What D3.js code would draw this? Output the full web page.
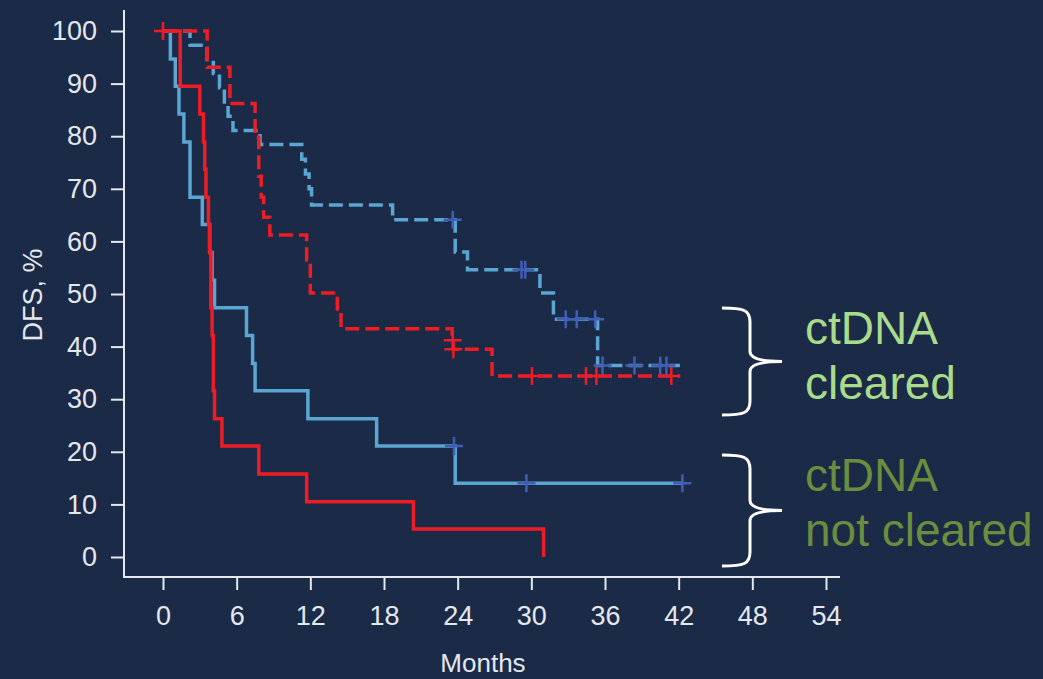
<!DOCTYPE html>
<html lang="en">
  <head>
    <meta charset="UTF-8" />
    <title>DFS by ctDNA clearance</title>
    <script src="https://d3js.org/d3.v7.min.js"></script>
    <style>
      body {
        margin: 0;
        background: #1b2a47;
        font-family: "Liberation Sans", Arial, sans-serif;
      }
    </style>
  </head>
  <body>
    <svg id="km" width="1043" height="679"></svg>
    <script>
      // Tick values
      const xTicks = [0, 6, 12, 18, 24, 30, 36, 42, 48, 54];
      const yTicks = [0, 10, 20, 30, 40, 50, 60, 70, 80, 90, 100];

      // Kaplan-Meier steps: [month, DFS %]; last point = end of follow-up
      const blueSolid = [
        [0, 100], [0.6, 94.7], [1.0, 89.5], [1.3, 84.2], [1.7, 78.9], [2.2, 68.4],
        [3.2, 63.2], [3.8, 57.9], [4.0, 52.6], [4.2, 47.4], [6.8, 42.1], [7.3, 36.8],
        [7.5, 31.6], [11.8, 26.3], [17.4, 21.1], [23.8, 14.0], [42.4, 14.0]
      ];
      const blueSolidCensor = [[23.7, 21.1], [29.6, 14.0], [42.3, 14.0]];

      const redSolid = [
        [0, 100], [1.4, 89.5], [3.0, 84.2], [3.3, 78.9], [3.4, 73.7], [3.5, 68.4],
        [3.7, 63.2], [3.8, 57.9], [3.9, 47.4], [4.0, 42.1], [4.1, 31.6], [4.2, 26.3],
        [4.8, 21.1], [7.8, 15.8], [11.7, 10.5], [20.4, 5.3], [31.0, 0], [31.0, 0]
      ];
      const redSolidCensor = [[0, 100]];

      const blueDashed = [
        [0, 100], [2.2, 97.3], [3.6, 94.6], [4.1, 91.9], [4.6, 89.2], [5.0, 86.5],
        [5.3, 83.8], [5.7, 81.1], [7.9, 78.4], [11.3, 75.6], [11.6, 72.8], [11.9, 70.0],
        [12.1, 66.9], [18.7, 64.1], [23.8, 58.0], [24.8, 54.6], [30.7, 50.2],
        [31.8, 45.2], [35.4, 36.4], [42.1, 36.4]
      ];
      const blueDashedCensor = [
        [23.6, 64.1], [29.2, 54.6], [29.5, 54.6], [32.8, 45.2], [33.7, 45.2],
        [35.2, 45.2], [35.8, 36.4], [38.4, 36.4], [40.5, 36.4], [41.0, 36.4]
      ];

      const redDashed = [
        [0, 100], [3.6, 93.1], [5.45, 86.2], [7.5, 79.8], [7.8, 72.4], [8.0, 68.4],
        [8.2, 64.6], [8.7, 61.2], [11.7, 56.5], [12.0, 50.2], [14.2, 46.8],
        [14.5, 43.4], [23.55, 41.2], [23.65, 39.5], [26.8, 34.4], [42.1, 34.4]
      ];
      const redDashedCensor = [
        [23.6, 41.2], [23.65, 39.5], [30.05, 34.4], [34.45, 34.4], [35.3, 34.4], [41.4, 34.4]
      ];

      const groupLabels = [["ctDNA", "cleared"], ["ctDNA", "not cleared"]];

      const svg = d3.select("#km");

      const x = d3.scaleLinear().domain([0, 54]).range([163, 826]);
      const y = d3.scaleLinear().domain([0, 100]).range([557, 31]);

      const axisColor = "#e4e8ee";

      // Axes (domain lines drawn separately, they run past the tick range)
      const yAxis = svg
        .append("g")
        .attr("transform", "translate(124,0)")
        .call(d3.axisLeft(y).tickValues(yTicks).tickSize(13).tickPadding(14));
      const xAxis = svg
        .append("g")
        .attr("transform", "translate(0,577)")
        .call(d3.axisBottom(x).tickValues(xTicks).tickSize(13).tickPadding(16));

      [yAxis, xAxis].forEach((g) => {
        g.select(".domain").remove();
        g.selectAll("line").attr("stroke", axisColor).attr("stroke-width", 2);
        g.selectAll("text")
          .attr("fill", axisColor)
          .style("font-size", "27px")
          .style("font-family", "'Liberation Sans', Arial, sans-serif");
      });

      svg.append("path")
        .attr("d", "M124,10V577H840")
        .attr("fill", "none")
        .attr("stroke", axisColor)
        .attr("stroke-width", 2);

      svg.append("text")
        .attr("x", 483)
        .attr("y", 672)
        .attr("text-anchor", "middle")
        .attr("fill", axisColor)
        .style("font-size", "26px")
        .text("Months");

      svg.append("text")
        .attr("transform", "translate(42,295) rotate(-90)")
        .attr("text-anchor", "middle")
        .attr("fill", axisColor)
        .style("font-size", "27px")
        .text("DFS, %");

      // Survival curves
      const step = d3
        .line()
        .x((d) => x(d[0]))
        .y((d) => y(d[1]))
        .curve(d3.curveStepAfter);

      const blue = "#5aa6d2";
      const red = "#ee1c25";
      const censorBlue = "#3f5fb6";

      const curves = [
        { data: blueSolid, color: blue, dash: null },
        { data: blueDashed, color: blue, dash: "14,6" },
        { data: redDashed, color: red, dash: "14,6" },
        { data: redSolid, color: red, dash: null },
      ];

      curves.forEach((c) => {
        svg.append("path")
          .datum(c.data)
          .attr("fill", "none")
          .attr("stroke", c.color)
          .attr("stroke-width", 3.5)
          .attr("stroke-dasharray", c.dash)
          .attr("d", step);
      });

      // Censor marks
      const censors = [
        { data: blueSolidCensor, color: censorBlue },
        { data: blueDashedCensor, color: censorBlue },
        { data: redDashedCensor, color: red },
        { data: redSolidCensor, color: red },
      ];

      censors.forEach((c) => {
        svg.append("g")
          .selectAll("path")
          .data(c.data)
          .join("path")
          .attr("d", (d) => `M${x(d[0]) - 9},${y(d[1])}h18M${x(d[0])},${y(d[1]) - 9}v18`)
          .attr("stroke", c.color)
          .attr("stroke-width", 2.5)
          .attr("fill", "none");
      });

      // Braces and group labels
      const brace = (top, bottom) => {
        const mid = (top + bottom) / 2;
        return `M722,${top} C744,${top} 750,${top + 2} 750,${top + 14}
          V${mid - 10} C750,${mid - 2} 764,${mid} 782,${mid}
          C764,${mid} 750,${mid + 2} 750,${mid + 10}
          V${bottom - 14} C750,${bottom - 2} 744,${bottom} 722,${bottom}`;
      };

      const labelColors = ["#a9db8b", "#6b8d3e"];
      const braceSpans = [[308, 415], [455, 566]];

      groupLabels.forEach((lines, i) => {
        const [top, bottom] = braceSpans[i];
        svg.append("path")
          .attr("d", brace(top, bottom))
          .attr("fill", "none")
          .attr("stroke", "#ffffff")
          .attr("stroke-width", 3);

        const t = svg.append("text")
          .attr("fill", labelColors[i])
          .style("font-size", "46px");
        lines.forEach((line, j) => {
          t.append("tspan")
            .attr("x", 805)
            .attr("y", top + 36 + j * 55)
            .text(line);
        });
      });
    </script>
  </body>
</html>
